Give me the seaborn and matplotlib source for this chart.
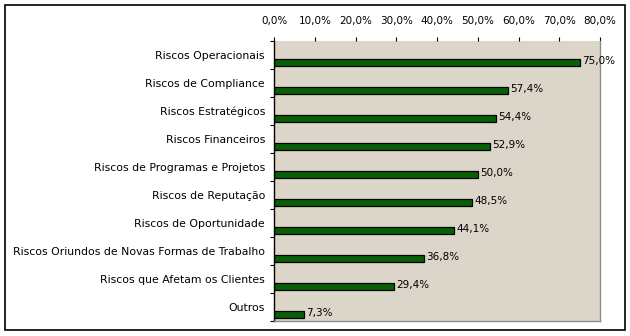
import matplotlib
matplotlib.use("Agg")
import matplotlib.pyplot as plt
import seaborn as sns
import pandas as pd
from matplotlib.patches import Rectangle

categories = [
    "Riscos Operacionais",
    "Riscos de Compliance",
    "Riscos Estratégicos",
    "Riscos Financeiros",
    "Riscos de Programas e Projetos",
    "Riscos de Reputação",
    "Riscos de Oportunidade",
    "Riscos Oriundos de Novas Formas de Trabalho",
    "Riscos que Afetam os Clientes",
    "Outros",
]
values = [75.0, 57.4, 54.4, 52.9, 50.0, 48.5, 44.1, 36.8, 29.4, 7.3]
x_ticks = [0, 10, 20, 30, 40, 50, 60, 70, 80]

sns.set_theme(style="white")
plt.rcParams["font.family"] = ["DejaVu Sans"]
plt.rcParams["text.color"] = "black"
plt.rcParams["xtick.color"] = "black"
plt.rcParams["ytick.color"] = "black"

FS = 7.5
FS_Y = 7.8

df = pd.DataFrame({"cat": categories, "val": values})

fig = plt.figure(figsize=(6.3, 3.36), dpi=100)
ax = fig.add_axes([274 / 630, 1 - 321 / 336, 326 / 630, 280 / 336])
ax.set_facecolor("#dcd6ca")

sns.barplot(data=df, y="cat", x="val", order=categories, orient="h",
            color="#085f08", width=0.25, saturation=1,
            edgecolor="#000000", linewidth=0.9, ax=ax)

n = len(categories)
ax.set_xlim(0, 80)
ax.set_ylim(n - 0.75, -0.75)

# value labels
for i, v in enumerate(values):
    ax.text(v + 0.6, i - 0.02, f"{v:.1f}%".replace(".", ","),
            va="center", ha="left", fontsize=FS, color="black")

# x axis on top
ax.xaxis.set_ticks_position("top")
ax.xaxis.set_label_position("top")
ax.set_xticks(x_ticks)
ax.set_xticklabels([f"{t:.1f}%".replace(".", ",") for t in x_ticks], fontsize=FS)
ax.tick_params(axis="x", which="major", direction="out", length=3, width=0.8,
               color="black", labelcolor="black", pad=8, top=True, bottom=False)

# y axis: tick marks at band boundaries, labels at band centers
ax.set_yticks([k - 0.75 for k in range(n + 1)])
ax.set_yticklabels([])
ax.set_yticks([i - 0.25 for i in range(n)], minor=True)
ax.set_yticklabels(categories, minor=True, fontsize=FS_Y)
ax.tick_params(axis="y", which="major", direction="out", length=3, width=0.8,
               color="black", left=True)
ax.tick_params(axis="y", which="minor", length=0, pad=6.5, left=True,
               labelcolor="black")

ax.set_xlabel("")
ax.set_ylabel("")

ax.spines["top"].set_visible(False)
ax.spines["left"].set_color("black")
ax.spines["left"].set_linewidth(1.0)
ax.spines["right"].set_color("#8c8c8c")
ax.spines["right"].set_linewidth(1.0)
ax.spines["bottom"].set_color("#8c8c8c")
ax.spines["bottom"].set_linewidth(1.0)

# figure border
fig.patches.append(Rectangle((5 / 630, 1 - 330 / 336), 620 / 630, 325 / 336,
                             transform=fig.transFigure, fill=False,
                             edgecolor="black", linewidth=1.2))

fig.savefig("out.png", dpi=100, facecolor="white")
